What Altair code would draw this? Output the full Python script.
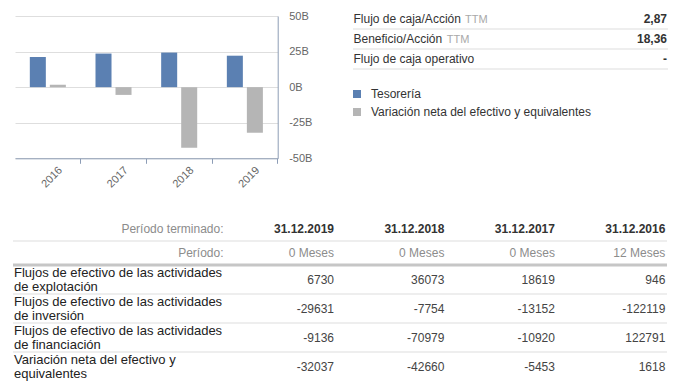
import altair as alt
import pandas as pd

FONT = "Liberation Sans"

# ---------------- data ----------------
years = ["2016", "2017", "2018", "2019"]
series = ["Tesorería", "Variación neta del efectivo y equivalentes"]
tesoreria = [21.2, 23.6, 24.3, 22.1]          # billions
variacion = [1.618, -5.453, -42.660, -32.037]  # billions
series_colors = ["#5b80b2", "#b5b5b5"]
y_ticks = [-50, -25, 0, 25, 50]

stat_labels = ["Flujo de caja/Acción", "Beneficio/Acción", "Flujo de caja operativo"]
stat_suffix = ["TTM", "TTM", ""]
stat_values = ["2,87", "18,36", "-"]

periods = ["31.12.2019", "31.12.2018", "31.12.2017", "31.12.2016"]
months = ["0 Meses", "0 Meses", "0 Meses", "12 Meses"]
header_rows = ["Período terminado:", "Período:"]

row_labels = [
    "Flujos de efectivo de las actividades\nde explotación",
    "Flujos de efectivo de las actividades\nde inversión",
    "Flujos de efectivo de las actividades\nde financiación",
    "Variación neta del efectivo y\nequivalentes",
]
row_values = [
    [6730, 36073, 18619, 946],
    [-29631, -7754, -13152, -122119],
    [-9136, -70979, -10920, 122791],
    [-32037, -42660, -5453, 1618],
]

# ---------------- bar chart ----------------
bar_df = pd.DataFrame({
    "year": years * 2,
    "series": [series[0]] * 4 + [series[1]] * 4,
    "value": tesoreria + variacion,
})

AXIS_COL = "#8d9db6"

bars = alt.Chart(bar_df).mark_bar().encode(
    x=alt.X("year:N", sort=years,
            scale=alt.Scale(paddingInner=0, paddingOuter=0),
            axis=alt.Axis(title=None, bandPosition=1, labelAngle=-45, labelAlign="right",
                          labelBaseline="middle", labelOffset=13, labelPadding=5,
                          labelFontSize=11, labelColor="#666", labelFont=FONT,
                          domainColor=AXIS_COL, tickColor=AXIS_COL, tickSize=5,
                          grid=False)),
    xOffset=alt.XOffset("series:N", sort=series,
                        scale=alt.Scale(domain=series, paddingInner=0.2, paddingOuter=0.74)),
    y=alt.Y("value:Q",
            scale=alt.Scale(domain=[-50, 50], nice=False),
            axis=alt.Axis(title=None, orient="right", values=y_ticks,
                          labelExpr="datum.value + 'B'", ticks=False, labelPadding=11,
                          labelFontSize=11, labelColor="#666", labelFont=FONT,
                          domainColor=AXIS_COL, gridColor="#dedede")),
    color=alt.Color("series:N", sort=series,
                    scale=alt.Scale(domain=series, range=series_colors),
                    legend=alt.Legend(orient="none", legendX=336, legendY=72, title=None,
                                      symbolType="square", symbolSize=64, symbolStrokeWidth=0,
                                      labelFontSize=12, labelColor="#333", labelFont=FONT,
                                      rowPadding=6, labelOffset=8, labelLimit=400,
                                      direction="vertical")),
)

# ---------------- key stats panel ----------------
stats_df = pd.DataFrame({
    "label": stat_labels,
    "suffix": stat_suffix,
    "value": stat_values,
})
sy_scale = alt.Scale(domain=stat_labels, range=[-7, 53], paddingInner=0, paddingOuter=0)
sy = alt.Y("label:N", scale=sy_scale, axis=None)

stats_label = alt.Chart(stats_df).mark_text(
    align="left", baseline="middle", fontSize=12, font=FONT, color="#333"
).encode(x=alt.value(338.5), y=sy, text="label:N")
suffix_1 = alt.Chart(stats_df).transform_filter(
    alt.datum.label == stat_labels[0]
).mark_text(align="left", baseline="middle", fontSize=11, font=FONT, color="#a9a9a9", dy=0.5
).encode(x=alt.value(450), y=sy, text="suffix:N")
suffix_2 = alt.Chart(stats_df).transform_filter(
    alt.datum.label == stat_labels[1]
).mark_text(align="left", baseline="middle", fontSize=11, font=FONT, color="#a9a9a9", dy=0.5
).encode(x=alt.value(431.7), y=sy, text="suffix:N")
stats_value = alt.Chart(stats_df).mark_text(
    align="right", baseline="middle", fontSize=12, font=FONT, fontWeight="bold", color="#333"
).encode(x=alt.value(652), y=sy, text="value:N")
stats_rule = alt.Chart(stats_df).mark_rule(color="#dddddd", strokeWidth=1).encode(
    x=alt.value(338), x2=alt.value(653),
    y=alt.Y("label:N", scale=sy_scale, axis=None, bandPosition=1),
)
stats_layer = alt.layer(stats_rule, stats_label, suffix_1, suffix_2, stats_value)

# ---------------- table header ----------------
hdr_df = pd.DataFrame({
    "row": [header_rows[0]] * 4 + [header_rows[1]] * 4,
    "col": periods * 2,
    "text": periods + months,
    "bold": [True] * 4 + [False] * 4,
})
hy_scale = alt.Scale(domain=header_rows, range=[201, 249], paddingInner=0, paddingOuter=0)
# band centres fall on the right edge of each table column
tx_scale = alt.Scale(domain=periods, range=[263.8, 705.6], paddingInner=0, paddingOuter=0)
hy = alt.Y("row:N", scale=hy_scale, axis=None)
tx = alt.X("col:N", scale=tx_scale, axis=None)

hdr_dates = alt.Chart(hdr_df).transform_filter("datum.bold").mark_text(
    align="right", baseline="middle", fontSize=12, font=FONT, fontWeight="bold", color="#333"
).encode(x=tx, y=hy, text="text:N")
hdr_months = alt.Chart(hdr_df).transform_filter("!datum.bold").mark_text(
    align="right", baseline="middle", fontSize=12, font=FONT, color="#8c8c8c"
).encode(x=tx, y=hy, text="text:N")
hdr_names = alt.Chart(pd.DataFrame({"row": header_rows})).mark_text(
    align="right", baseline="middle", fontSize=12, font=FONT, color="#8c8c8c"
).encode(x=alt.value(208.5), y=hy, text="row:N")
hdr_rule1 = alt.Chart(pd.DataFrame({"row": header_rows[:1]})).mark_rule(
    color="#dddddd", strokeWidth=1
).encode(x=alt.value(-2), x2=alt.value(652),
         y=alt.Y("row:N", scale=hy_scale, axis=None, bandPosition=1))
hdr_rule2 = alt.Chart(pd.DataFrame({"row": header_rows[1:]})).mark_rule(
    color="#c6c6c6", strokeWidth=3
).encode(x=alt.value(-2), x2=alt.value(652),
         y=alt.Y("row:N", scale=hy_scale, axis=None, bandPosition=1))
header_layer = alt.layer(hdr_rule1, hdr_rule2, hdr_dates, hdr_months, hdr_names)

# ---------------- table body ----------------
body_records = []
for lab, vals in zip(row_labels, row_values):
    for p, v in zip(periods, vals):
        body_records.append({"row": lab, "col": p, "val": str(v)})
body_df = pd.DataFrame(body_records)
by_scale = alt.Scale(domain=row_labels, range=[249, 365], paddingInner=0, paddingOuter=0)
by = alt.Y("row:N", scale=by_scale, axis=None)

body_vals = alt.Chart(body_df).mark_text(
    align="right", baseline="middle", fontSize=12, font=FONT, color="#444"
).encode(x=tx, y=by, text="val:N")
body_names = alt.Chart(pd.DataFrame({"row": row_labels})).mark_text(
    align="left", baseline="middle", fontSize=13, font=FONT, color="#222",
    lineBreak="\n", lineHeight=14, dy=-6.8
).encode(x=alt.value(-1), y=by, text="row:N")
body_rules = alt.Chart(pd.DataFrame({"row": row_labels[:-1]})).mark_rule(
    color="#dddddd", strokeWidth=1
).encode(x=alt.value(-2), x2=alt.value(652),
         y=alt.Y("row:N", scale=by_scale, axis=None, bandPosition=1))
body_layer = alt.layer(body_rules, body_vals, body_names)

chart = alt.layer(bars, stats_layer, header_layer, body_layer).resolve_scale(
    x="independent", y="independent"
).properties(
    width=262.7, height=142.3,
    autosize=alt.AutoSizeParams(type="none"),
    padding={"left": 7, "top": 8, "right": 397.3, "bottom": 225.7},
    background="white",
).configure_view(stroke=None)

chart.save("out.html", embed_options={"renderer": "svg", "actions": False})
